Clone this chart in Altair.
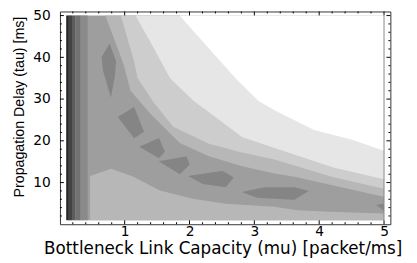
import altair as alt
import pandas as pd

# ---------------- data ----------------
MU_RANGE = [0.1, 5.0]      # sampled region of the contour plot
TAU_RANGE = [1.0, 50.0]
MU_DOMAIN = [0.002, 5.098]  # frame (plot range + padding)
TAU_DOMAIN = [0.02, 50.98]

# shades of the contour levels (dark = low, light = high)
SHADE_BODY = "#9e9e9e"
SHADE_VALLEY = "#858585"
SHADE_B7 = "#b7b7b7"
SHADE_B8 = "#cdcdcd"
SHADE_B9 = "#e6e6e6"
SHADE_B10 = "#ffffff"

# vertical strips near mu -> 0
strip_edges = [0.10, 0.138, 0.188, 0.24, 0.32, 0.43]
strip_shades = ["#262626", "#444444", "#5c5c5c", "#727272", "#8a8a8a"]

# lower plateau (level 7 below the valley): its upper boundary
plateau_mu = [0.466, 0.79, 1.12, 1.545, 2.05, 2.56, 3.31, 3.66, 4.17, 5.0]
plateau_tau = [11.6, 13.3, 11.5, 8.1, 6.1, 4.95, 4.2, 3.4, 3.0, 2.6]

# upper bands: lower boundary of each level region (region extends to tau=50)
b7_mu = [0.70, 0.80, 0.92, 0.99, 1.09, 1.39, 1.60, 1.85, 2.30, 2.81, 3.31, 3.62, 4.22, 5.0]
b7_tau = [50.0, 46.0, 41.0, 38.0, 32.0, 26.6, 23.3, 19.5, 16.3, 13.9, 12.2, 11.4, 9.3, 6.6]
b8_mu = [0.94, 1.146, 1.197, 1.45, 1.75, 2.30, 2.81, 3.31, 4.22, 5.0]
b8_tau = [50.0, 39.0, 35.1, 29.1, 23.4, 19.3, 17.2, 15.5, 11.3, 8.5]
b9_mu = [1.166, 1.42, 1.70, 2.06, 2.41, 2.81, 3.31, 4.22, 5.0]
b9_tau = [50.0, 43.0, 35.0, 29.6, 25.6, 20.9, 18.3, 13.6, 10.8]
b10_mu = [1.847, 2.30, 2.71, 3.06, 3.31, 3.92, 4.52, 5.0]
b10_tau = [50.0, 42.1, 35.0, 29.6, 27.3, 22.6, 20.2, 17.6]

# dark valley patches: (patch id, mu, upper tau, lower tau)
valley_pid = ["a"] * 6 + ["b"] * 3 + ["c"] * 3 + ["d"] * 4 + ["e"] * 5 + ["f"] * 5 + ["g"] * 2
valley_mu = [0.642, 0.667, 0.769, 0.788, 0.849, 0.868,
             0.894, 1.146, 1.298,
             1.227, 1.529, 1.62,
             1.525, 1.852, 1.953, 2.003,
             1.978, 2.205, 2.508, 2.558, 2.683,
             2.81, 3.04, 3.16, 3.616, 3.84,
             4.88, 5.0]
valley_top = [40.0, 40.65, 43.3, 42.47, 39.83, 39.0,
              25.7, 28.1, 22.2,
              18.6, 20.7, 17.4,
              15.12, 16.02, 16.3, 14.35,
              11.6, 12.1, 12.77, 12.33, 11.22,
              7.77, 8.51, 8.9, 8.9, 8.0,
              4.6, 5.0]
valley_bot = [40.0, 36.7, 31.39, 30.4, 35.5, 39.0,
              25.7, 20.6, 22.2,
              18.6, 15.8, 17.4,
              15.12, 12.0, 13.57, 14.35,
              11.6, 9.65, 8.98, 8.87, 11.22,
              7.77, 6.36, 6.26, 5.9, 8.0,
              4.6, 3.2]

x_major = [1, 2, 3, 4, 5]
x_minor = [0.2, 0.4, 0.6, 0.8, 1.2, 1.4, 1.6, 1.8, 2.2, 2.4, 2.6, 2.8,
           3.2, 3.4, 3.6, 3.8, 4.2, 4.4, 4.6, 4.8]
y_major = [10, 20, 30, 40, 50]
y_minor = [2, 4, 6, 8, 12, 14, 16, 18, 22, 24, 26, 28, 32, 34, 36, 38,
           42, 44, 46, 48]

X_TITLE = "Bottleneck Link Capacity (mu) [packet/ms]"
Y_TITLE = "Propagation Delay (tau) [ms]"

# ---------------- chart ----------------
W, H = 337, 217
xs = alt.Scale(domain=MU_DOMAIN, nice=False, zero=False)
ys = alt.Scale(domain=TAU_DOMAIN, nice=False, zero=False)

x_axis = alt.Axis(values=x_major, format="d", title=X_TITLE, grid=False, ticks=False,
                  tickSize=0, domain=False, labelFont="DejaVu Sans", labelFontSize=14,
                  labelColor="black", labelPadding=12, labelBaseline="alphabetic",
                  titleFont="DejaVu Sans", titleFontSize=17.1, titleFontWeight="normal",
                  titleColor="black", titleX=166, titleY=30, titleBaseline="alphabetic")
y_axis = alt.Axis(values=y_major, format="d", title=Y_TITLE, grid=False, ticks=False,
                  tickSize=0, domain=False, labelFont="DejaVu Sans", labelFontSize=14,
                  labelColor="black", labelPadding=10,
                  titleFont="Liberation Sans", titleFontSize=14.5, titleFontWeight="normal",
                  titleColor="black", titleX=-37, titleY=97, titleAlign="center",
                  titleBaseline="alphabetic")

X = alt.X("mu:Q", scale=xs, axis=x_axis)
X2 = alt.X2("mu2:Q")
Y = alt.Y("tau:Q", scale=ys, axis=y_axis)
Y2 = alt.Y2("tau2:Q")

base = alt.Chart(pd.DataFrame({"mu": [MU_RANGE[0]], "mu2": [MU_RANGE[1]],
                               "tau": [TAU_RANGE[0]], "tau2": [TAU_RANGE[1]]})
                 ).mark_rect(color=SHADE_BODY).encode(x=X, x2=X2, y=Y, y2=Y2)

plateau = alt.Chart(pd.DataFrame({"mu": plateau_mu, "tau": plateau_tau,
                                  "tau2": [TAU_RANGE[0]] * len(plateau_mu)})
                    ).mark_area(color=SHADE_B7, interpolate="linear").encode(x=X, y=Y, y2=Y2)


def band(mus, taus, shade):
    df = pd.DataFrame({"mu": mus, "tau": taus, "tau2": [TAU_RANGE[1]] * len(mus)})
    return alt.Chart(df).mark_area(color=shade).encode(x=X, y=Y, y2=Y2)


bands = [band(b7_mu, b7_tau, SHADE_B7), band(b8_mu, b8_tau, SHADE_B8),
         band(b9_mu, b9_tau, SHADE_B9), band(b10_mu, b10_tau, SHADE_B10)]

valley = alt.Chart(pd.DataFrame({"pid": valley_pid, "mu": valley_mu,
                                 "tau": valley_top, "tau2": valley_bot})
                   ).mark_area(color=SHADE_VALLEY).encode(x=X, y=Y, y2=Y2, detail="pid:N")

strips = alt.Chart(pd.DataFrame({"mu": strip_edges[:-1], "mu2": strip_edges[1:],
                                 "tau": [TAU_RANGE[0]] * 5, "tau2": [TAU_RANGE[1]] * 5,
                                 "shade": strip_shades})
                   ).mark_rect().encode(x=X, x2=X2, y=Y, y2=Y2,
                                        color=alt.Color("shade:N", scale=None))

edge = alt.Chart(pd.DataFrame({"mu": [MU_RANGE[1]], "tau": [TAU_RANGE[0]],
                               "tau2": [TAU_RANGE[1]]})
                 ).mark_rule(color="#888888", strokeWidth=1).encode(x=X, y=Y, y2=Y2)


def xticks(vals, size):
    df = pd.DataFrame({"mu": vals})
    bot = alt.Chart(df).mark_rule(color="black", strokeWidth=1).encode(
        x=X, y=alt.value(H), y2=alt.value(H - size))
    top = alt.Chart(df).mark_rule(color="black", strokeWidth=1).encode(
        x=X, y=alt.value(0), y2=alt.value(size))
    return [bot, top]


def yticks(vals, size):
    df = pd.DataFrame({"tau": vals})
    left = alt.Chart(df).mark_rule(color="black", strokeWidth=1).encode(
        y=Y, x=alt.value(0), x2=alt.value(size))
    right = alt.Chart(df).mark_rule(color="black", strokeWidth=1).encode(
        y=Y, x=alt.value(W), x2=alt.value(W - size))
    return [left, right]


layers = [base, plateau] + bands + [valley, strips, edge]
layers += xticks(x_major, 4) + xticks(x_minor, 2) + yticks(y_major, 4) + yticks(y_minor, 2)

chart = alt.layer(*layers).properties(
    width=W, height=H,
    autosize=alt.AutoSizeParams(type="none"),
    padding={"left": 53, "top": 1, "right": 19, "bottom": 38},
).configure_view(stroke="#333333", strokeWidth=1, fill="white")

chart.save("out.html", embed_options={"renderer": "svg", "actions": False})
